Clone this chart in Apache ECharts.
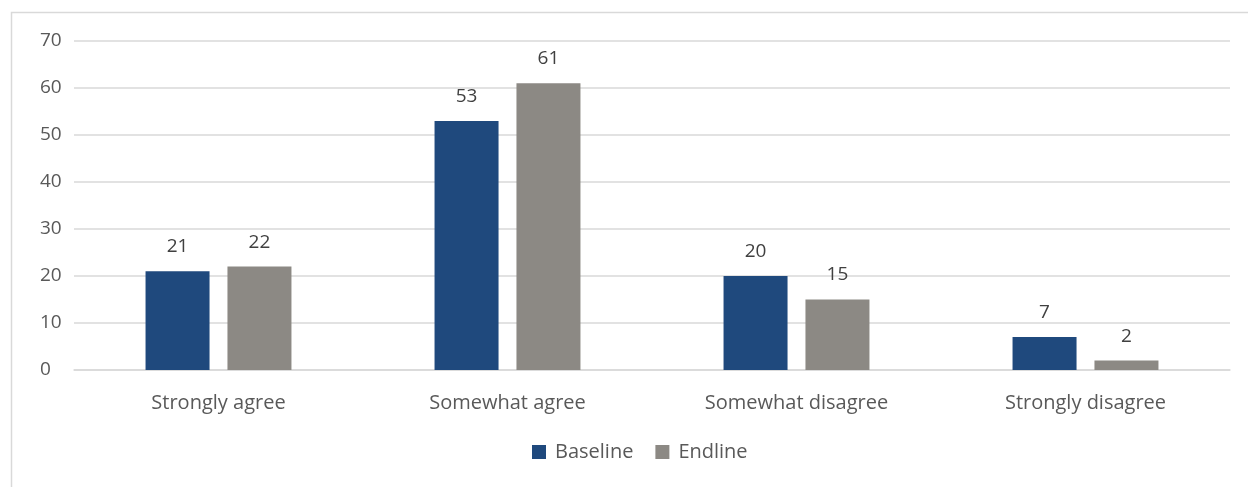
<!DOCTYPE html>
<html>
<head>
<meta charset="utf-8">
<script src="https://cdn.jsdelivr.net/npm/echarts@6/dist/echarts.min.js"></script>
<style>
  html, body { margin: 0; padding: 0; background: #fff; }
  #chart { width: 1248px; height: 487px; }
</style>
</head>
<body>
<div id="chart"></div>
<script>
const categories = ['Strongly agree', 'Somewhat agree', 'Somewhat disagree', 'Strongly disagree'];
const baseline = [21, 53, 20, 7];
const endline = [22, 61, 15, 2];
const seriesNames = ['Baseline', 'Endline'];

const textColor = '#595959';
const fontFamily = '"Open Sans", "Noto Sans", sans-serif';

const chart = echarts.init(document.getElementById('chart'));
const labelStyle = {
  show: true,
  position: 'top',
  distance: 15,
  color: '#404040',
  fontSize: 19,
  fontFamily: fontFamily
};
chart.setOption({
  animation: false,
  textStyle: { fontFamily: fontFamily },
  graphic: [{
    type: 'rect',
    shape: { x: 11.5, y: 12.5, width: 1400, height: 700 },
    style: { fill: 'none', stroke: '#d9d9d9', lineWidth: 1.5 },
    silent: true
  }],
  grid: { left: 74, right: 18, top: 41, bottom: 117 },
  legend: {
    bottom: 20,
    left: 527,
    itemWidth: 14,
    itemHeight: 14,
    itemGap: 22,
    icon: 'rect',
    textStyle: { color: textColor, fontSize: 20, fontFamily: fontFamily, padding: [0, 0, 0, 4] },
    data: seriesNames
  },
  xAxis: {
    type: 'category',
    data: categories,
    axisLine: { lineStyle: { color: '#d9d9d9', width: 1.5 } },
    axisTick: { show: false },
    axisLabel: { color: textColor, fontSize: 20, margin: 23, fontFamily: fontFamily }
  },
  yAxis: {
    type: 'value',
    min: 0,
    max: 70,
    interval: 10,
    axisLine: { show: false },
    axisTick: { show: false },
    splitLine: { lineStyle: { color: '#d9d9d9', width: 1.5 } },
    axisLabel: { color: textColor, fontSize: 19, margin: 34, fontFamily: fontFamily, align: 'left' }
  },
  series: [
    {
      name: seriesNames[0],
      type: 'bar',
      data: baseline,
      barWidth: 64,
      barGap: '28%',
      itemStyle: { color: '#1f497d' },
      label: labelStyle
    },
    {
      name: seriesNames[1],
      type: 'bar',
      data: endline,
      barWidth: 64,
      itemStyle: { color: '#8c8984' },
      label: labelStyle
    }
  ]
});
</script>
</body>
</html>
